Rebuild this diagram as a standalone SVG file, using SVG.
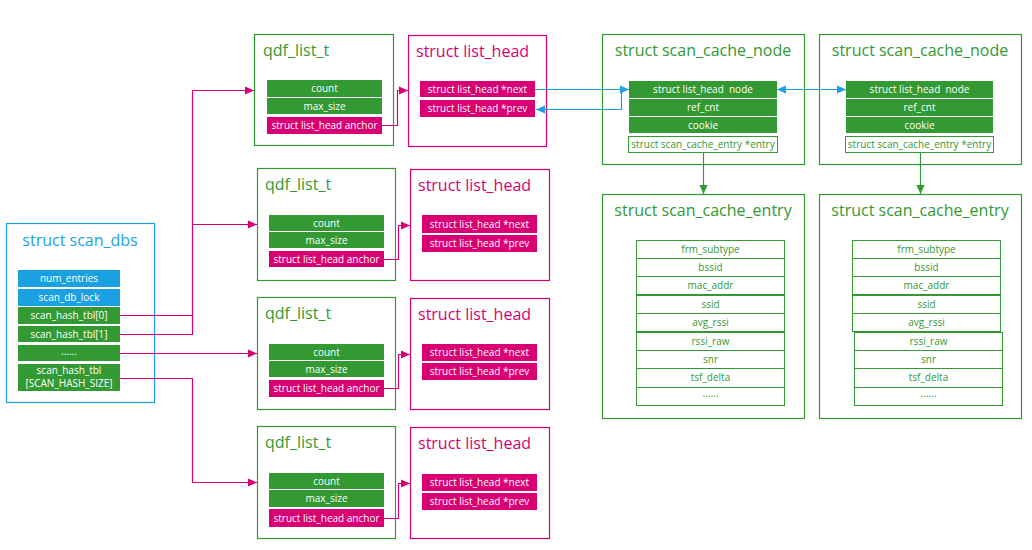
<svg xmlns="http://www.w3.org/2000/svg" width="1032" height="550" viewBox="0 0 1032 550">
<defs>
<marker id="am" markerUnits="userSpaceOnUse" markerWidth="10" markerHeight="10" refX="9" refY="5" orient="auto"><path d="M0,1 L9,5 L0,9 Z" fill="#D80073"/></marker>
<marker id="ab" markerUnits="userSpaceOnUse" markerWidth="10" markerHeight="10" refX="9" refY="5" orient="auto-start-reverse"><path d="M0,1 L9,5 L0,9 Z" fill="#1BA1E2"/></marker>
<marker id="ag" markerUnits="userSpaceOnUse" markerWidth="10" markerHeight="10" refX="9" refY="5" orient="auto"><path d="M0,1 L9,5 L0,9 Z" fill="#339933"/></marker>
</defs>
<style>
text{font-family:"Open Sans","Noto Sans","Liberation Sans",sans-serif}
.t{font-size:16px}
.f{font-size:10px;fill:#fff;text-anchor:middle}
.fg{font-size:10px;fill:#339933;text-anchor:middle}
.bg{fill:#fff;stroke:#339933;stroke-width:1.2}
.bm{fill:#fff;stroke:#D80073;stroke-width:1.2}
.bb{fill:#fff;stroke:#1BA1E2;stroke-width:1.2}
.g{fill:#339933}
.m{fill:#D80073}
.b{fill:#1BA1E2}
.e{fill:#fff;stroke:#339933;stroke-width:1}
.cm{fill:none;stroke:#D80073;stroke-width:1.2}
.cb{fill:none;stroke:#1BA1E2;stroke-width:1.2}
.cg{fill:none;stroke:#339933;stroke-width:1.2}
</style>
<rect width="1032" height="550" fill="#fff"/>

<g id="scan_dbs">
<rect class="bb" x="6.5" y="223.5" width="148" height="179"/>
<text class="t" x="80" y="246" text-anchor="middle" fill="#1BA1E2">struct scan_dbs</text>
<rect class="b" x="18" y="270" width="102" height="17"/>
<text class="f" x="69" y="282">num_entries</text>
<rect class="b" x="18" y="289" width="102" height="17"/>
<text class="f" x="69" y="301">scan_db_lock</text>
<rect class="g" x="18" y="307" width="102" height="17"/>
<text class="f" x="69" y="319">scan_hash_tbl[0]</text>
<rect class="g" x="18" y="326" width="102" height="16"/>
<text class="f" x="69" y="337.5">scan_hash_tbl[1]</text>
<rect class="g" x="18" y="345" width="102" height="16"/>
<text class="f" x="69" y="355">......</text>
<rect class="g" x="18" y="364" width="102" height="27"/>
<text class="f" x="69" y="374">scan_hash_tbl</text>
<text class="f" x="69" y="386.5">[SCAN_HASH_SIZE]</text>
</g>

<g id="qdf1">
<rect class="bg" x="254.5" y="34.5" width="139" height="111"/>
<text class="t" x="263" y="56" fill="#339933">qdf_list_t</text>
<rect class="g" x="267" y="80" width="115" height="17"/>
<text class="f" x="324.5" y="92">count</text>
<rect class="g" x="267" y="98" width="115" height="16"/>
<text class="f" x="324.5" y="109.5">max_size</text>
<rect class="m" x="267" y="117" width="115" height="17"/>
<text class="f" x="324.5" y="129">struct list_head anchor</text>
</g>
<g id="lh1">
<rect class="bm" x="408.5" y="35.5" width="138" height="111"/>
<text class="t" x="416" y="57" fill="#D80073">struct list_head</text>
<rect class="m" x="420" y="81" width="115" height="16"/>
<text class="f" x="477.5" y="92.5">struct list_head *next</text>
<rect class="m" x="420" y="100" width="115" height="17"/>
<text class="f" x="477.5" y="112">struct list_head *prev</text>
</g>

<g id="qdf2">
<rect class="bg" x="257.5" y="168.5" width="138" height="112"/>
<text class="t" x="265" y="190" fill="#339933">qdf_list_t</text>
<rect class="g" x="269" y="215" width="115" height="16"/>
<text class="f" x="326.5" y="226.5">count</text>
<rect class="g" x="269" y="232" width="115" height="16"/>
<text class="f" x="326.5" y="243.5">max_size</text>
<rect class="m" x="269" y="251" width="115" height="16"/>
<text class="f" x="326.5" y="262.5">struct list_head anchor</text>
</g>
<g id="lh2">
<rect class="bm" x="410.5" y="169.5" width="139" height="111"/>
<text class="t" x="418" y="191" fill="#D80073">struct list_head</text>
<rect class="m" x="422" y="215" width="115" height="18"/>
<text class="f" x="479.5" y="227.5">struct list_head *next</text>
<rect class="m" x="422" y="235" width="115" height="17"/>
<text class="f" x="479.5" y="247">struct list_head *prev</text>
</g>

<g id="qdf3">
<rect class="bg" x="257.5" y="297.5" width="138" height="112"/>
<text class="t" x="265" y="319" fill="#339933">qdf_list_t</text>
<rect class="g" x="269" y="344" width="115" height="16"/>
<text class="f" x="326.5" y="355.5">count</text>
<rect class="g" x="269" y="361" width="115" height="16"/>
<text class="f" x="326.5" y="372.5">max_size</text>
<rect class="m" x="269" y="380" width="115" height="17"/>
<text class="f" x="326.5" y="392">struct list_head anchor</text>
</g>
<g id="lh3">
<rect class="bm" x="410.5" y="298.5" width="139" height="111"/>
<text class="t" x="418" y="320" fill="#D80073">struct list_head</text>
<rect class="m" x="422" y="344" width="115" height="17"/>
<text class="f" x="479.5" y="356">struct list_head *next</text>
<rect class="m" x="422" y="363" width="115" height="17"/>
<text class="f" x="479.5" y="375">struct list_head *prev</text>
</g>

<g id="qdf4">
<rect class="bg" x="257.5" y="426.5" width="138" height="112"/>
<text class="t" x="265" y="448" fill="#339933">qdf_list_t</text>
<rect class="g" x="269" y="473" width="115" height="16"/>
<text class="f" x="326.5" y="484.5">count</text>
<rect class="g" x="269" y="490" width="115" height="17"/>
<text class="f" x="326.5" y="502">max_size</text>
<rect class="m" x="269" y="509" width="115" height="18"/>
<text class="f" x="326.5" y="521.5">struct list_head anchor</text>
</g>
<g id="lh4">
<rect class="bm" x="410.5" y="427.5" width="139" height="111"/>
<text class="t" x="418" y="449" fill="#D80073">struct list_head</text>
<rect class="m" x="422" y="474" width="115" height="17"/>
<text class="f" x="479.5" y="486">struct list_head *next</text>
<rect class="m" x="422" y="493" width="115" height="17"/>
<text class="f" x="479.5" y="505">struct list_head *prev</text>
</g>

<g id="node1">
<rect class="bg" x="602.5" y="34.5" width="202" height="130"/>
<text class="t" x="703" y="56" text-anchor="middle" fill="#339933">struct scan_cache_node</text>
<rect class="g" x="629" y="81" width="148" height="17"/>
<text class="f" x="703" y="93">struct list_head&#160; node</text>
<rect class="g" x="629" y="99" width="148" height="17"/>
<text class="f" x="703" y="111">ref_cnt</text>
<rect class="g" x="629" y="117" width="148" height="16"/>
<text class="f" x="703" y="128.5">cookie</text>
<rect class="e" x="628.5" y="136.5" width="149" height="16"/>
<text class="fg" x="703" y="148">struct scan_cache_entry *entry</text>
</g>
<g id="node2">
<rect class="bg" x="819.5" y="34.5" width="202" height="130"/>
<text class="t" x="920" y="56" text-anchor="middle" fill="#339933">struct scan_cache_node</text>
<rect class="g" x="846" y="81" width="147" height="17"/>
<text class="f" x="919.5" y="93">struct list_head&#160; node</text>
<rect class="g" x="846" y="99" width="147" height="17"/>
<text class="f" x="919.5" y="111">ref_cnt</text>
<rect class="g" x="846" y="117" width="147" height="16"/>
<text class="f" x="919.5" y="128.5">cookie</text>
<rect class="e" x="845.5" y="136.5" width="148" height="16"/>
<text class="fg" x="919.5" y="148">struct scan_cache_entry *entry</text>
</g>

<g id="entry1">
<rect class="bg" x="602.5" y="194.5" width="202" height="224"/>
<text class="t" x="703" y="216" text-anchor="middle" fill="#339933">struct scan_cache_entry</text>
<rect class="e" x="636.5" y="240.5" width="148" height="18"/>
<text class="fg" x="710.5" y="252.5">frm_subtype</text>
<rect class="e" x="636.5" y="258.5" width="148" height="18"/>
<text class="fg" x="710.5" y="270.5">bssid</text>
<rect class="e" x="636.5" y="276.5" width="148" height="18"/>
<text class="fg" x="710.5" y="288.5">mac_addr</text>
<rect class="e" x="636.5" y="295.5" width="148" height="18"/>
<text class="fg" x="710.5" y="307.5">ssid</text>
<rect class="e" x="636.5" y="313.5" width="148" height="18"/>
<text class="fg" x="710.5" y="325.5">avg_rssi</text>
<rect class="e" x="636.5" y="332.5" width="148" height="18"/>
<text class="fg" x="710.5" y="344.5">rssi_raw</text>
<rect class="e" x="636.5" y="350.5" width="148" height="18"/>
<text class="fg" x="710.5" y="362.5">snr</text>
<rect class="e" x="636.5" y="368.5" width="148" height="19"/>
<text class="fg" x="710.5" y="381">tsf_delta</text>
<rect class="e" x="636.5" y="387.5" width="148" height="18"/>
<text class="fg" x="710.5" y="397">......</text>
</g>
<g id="entry2">
<rect class="bg" x="819.5" y="194.5" width="202" height="224"/>
<text class="t" x="920" y="216" text-anchor="middle" fill="#339933">struct scan_cache_entry</text>
<rect class="e" x="852.5" y="240.5" width="148" height="18"/>
<text class="fg" x="926.5" y="252.5">frm_subtype</text>
<rect class="e" x="852.5" y="258.5" width="148" height="18"/>
<text class="fg" x="926.5" y="270.5">bssid</text>
<rect class="e" x="852.5" y="276.5" width="148" height="18"/>
<text class="fg" x="926.5" y="288.5">mac_addr</text>
<rect class="e" x="852.5" y="295.5" width="148" height="18"/>
<text class="fg" x="926.5" y="307.5">ssid</text>
<rect class="e" x="852.5" y="313.5" width="148" height="18"/>
<text class="fg" x="926.5" y="325.5">avg_rssi</text>
<rect class="e" x="854.5" y="332.5" width="148" height="18"/>
<text class="fg" x="928.5" y="344.5">rssi_raw</text>
<rect class="e" x="854.5" y="350.5" width="148" height="18"/>
<text class="fg" x="928.5" y="362.5">snr</text>
<rect class="e" x="854.5" y="368.5" width="148" height="19"/>
<text class="fg" x="928.5" y="381">tsf_delta</text>
<rect class="e" x="854.5" y="387.5" width="148" height="18"/>
<text class="fg" x="928.5" y="397">......</text>
</g>

<g id="connectors">
<path class="cm" d="M120,315.5 H192.5"/>
<path class="cm" d="M120,334.5 H192.5 V90.5 H254" marker-end="url(#am)"/>
<path class="cm" d="M192.5,224.5 H257" marker-end="url(#am)"/>
<path class="cm" d="M120,353.5 H257" marker-end="url(#am)"/>
<path class="cm" d="M120,378.5 H192.5 V482.5 H257" marker-end="url(#am)"/>
<path class="cm" d="M382,125.5 H397.5 V90.5 H408" marker-end="url(#am)"/>
<path class="cm" d="M384,259.5 H398.5 V225.5 H410" marker-end="url(#am)"/>
<path class="cm" d="M384,388.5 H398.5 V354.5 H410" marker-end="url(#am)"/>
<path class="cm" d="M384,518.5 H398.5 V483.5 H410" marker-end="url(#am)"/>
<path class="cb" d="M535,89.5 H629" marker-end="url(#ab)"/>
<path class="cb" d="M621.5,89.5 V109.5 H536" marker-end="url(#ab)"/>
<path class="cb" d="M777,89.5 H846" marker-start="url(#ab)" marker-end="url(#ab)"/>
<path class="cg" d="M703.5,153 V194" marker-end="url(#ag)"/>
<path class="cg" d="M920.5,153 V194" marker-end="url(#ag)"/>
</g>
</svg>
